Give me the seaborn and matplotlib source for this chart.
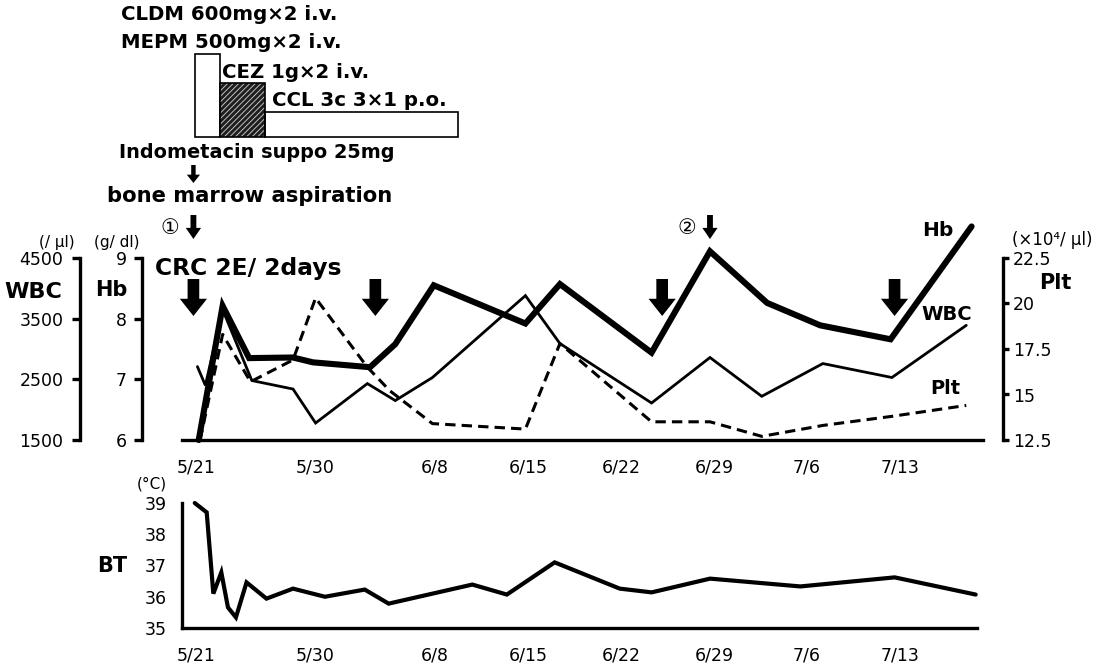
import matplotlib
matplotlib.use("Agg")
import matplotlib.pyplot as plt
import seaborn as sns
from matplotlib.patches import Rectangle

# -------------------------------------------------------
# Data (x = days counted from 5/21)
# -------------------------------------------------------

date_ticks = [0, 9, 18, 25, 32, 39, 46, 53]
date_labels = ["5/21", "5/30", "6/8", "6/15", "6/22", "6/29", "7/6", "7/13"]

hb_days = [0.2, 2.0, 4.0, 7.3, 8.8, 13.1, 15.0, 17.9, 24.8, 27.4, 34.3, 38.7, 43.0, 47.0, 52.3, 58.4]
hb_vals = [6.0, 8.21, 7.35, 7.36, 7.28, 7.2, 7.58, 8.55, 7.92, 8.57, 7.44, 9.11, 8.26, 7.89, 7.66, 9.52]

wbc_days = [0.1, 0.7, 2.0, 4.2, 7.3, 9.0, 12.9, 15.0, 17.8, 24.8, 27.4, 34.3, 38.7, 42.6, 47.2, 52.4, 58.0]
wbc_vals = [2710, 2400, 3650, 2480, 2340, 1780, 2430, 2150, 2530, 3880, 3090, 2110, 2860, 2220, 2760, 2530, 3390]

plt_days = [0.3, 2.0, 4.1, 7.3, 9.0, 12.9, 14.6, 17.8, 24.8, 27.4, 34.3, 38.7, 42.6, 47.2, 52.4, 58.0]
plt_vals = [12.5, 18.3, 15.7, 16.9, 20.3, 16.5, 15.2, 13.4, 13.1, 17.8, 13.5, 13.5, 12.7, 13.3, 13.8, 14.4]

bt_days = [-0.1, 0.8, 1.3, 1.9, 2.4, 3.0, 3.8, 5.3, 7.3, 9.7, 12.7, 14.5,
           20.8, 23.4, 27.0, 31.9, 34.3, 38.7, 45.5, 52.6, 58.7]
bt_vals = [39.0, 38.7, 36.1, 36.78, 35.66, 35.34, 36.46, 35.94, 36.26, 36.0, 36.23, 35.78,
           36.39, 36.07, 37.1, 36.26, 36.14, 36.58, 36.33, 36.62, 36.07]

crc_days = [-0.2, 13.5, 35.1, 52.6]      # CRC 2E / 2days
marrow_days = [-0.2, 38.7]               # bone marrow aspiration 1, 2
marrow_marks = ["\u2460", "\u2461"]

drug_start = [-0.1, 1.8, 5.2]            # CLDM+MEPM, CEZ, CCL
drug_end = [1.8, 5.2, 19.7]

# -------------------------------------------------------
# Figure layout (pixel based, 1113 x 669)
# -------------------------------------------------------

sns.set_style("white")
plt.rcParams["font.family"] = ["DejaVu Sans", "Noto Sans CJK JP"]
plt.rcParams["hatch.linewidth"] = 0.7

W, H = 1113, 669
fig = plt.figure(figsize=(W / 100, H / 100), dpi=100)


def rect(left, top, right, bottom):
    return [left / W, 1 - bottom / H, (right - left) / W, (bottom - top) / H]


def ftext(x, y, s, **kw):
    kw.setdefault("ha", "center")
    kw.setdefault("va", "center")
    fig.text(x / W, 1 - y / H, s, color="k", **kw)


XLIM = (-1.06, 59.26)
SPW = 2.4

ax_hb = fig.add_axes(rect(182, 258, 983, 440))
ax_wbc = ax_hb.twinx()
ax_plt = ax_hb.twinx()
ax_bt = fig.add_axes(rect(182, 503, 977, 628))

# lines
sns.lineplot(x=wbc_days, y=wbc_vals, ax=ax_wbc, color="k", lw=2.0,
             solid_joinstyle="miter")
sns.lineplot(x=plt_days, y=plt_vals, ax=ax_plt, color="k", lw=2.2,
             linestyle=(0, (3.4, 2.0)), clip_on=False)
sns.lineplot(x=hb_days, y=hb_vals, ax=ax_hb, color="k", lw=4.4,
             solid_joinstyle="miter", clip_on=False)
sns.lineplot(x=bt_days, y=bt_vals, ax=ax_bt, color="k", lw=3.0,
             solid_joinstyle="miter", clip_on=False)

ax_hb.set_zorder(ax_plt.get_zorder() + 1)
ax_hb.patch.set_visible(False)

for a in (ax_hb, ax_wbc, ax_plt, ax_bt):
    a.set_xlim(XLIM)
    a.set_xlabel("")
    a.set_ylabel("")
    for s in a.spines.values():
        s.set_visible(False)
        s.set_linewidth(SPW)
        s.set_color("k")
ax_bt.set_xlim(XLIM[0], 58.8)

# Hb axis (left, inner)
ax_hb.set_ylim(6, 9)
ax_hb.set_yticks([6, 7, 8, 9])
ax_hb.spines["left"].set_visible(True)
ax_hb.spines["left"].set_position(("axes", -40 / 801))
ax_hb.spines["bottom"].set_visible(True)
ax_hb.yaxis.tick_left()
ax_hb.tick_params(axis="y", direction="out", length=6, width=SPW, pad=5,
                  labelsize=12.5, colors="k")
ax_hb.set_xticks(date_ticks)
ax_hb.set_xticklabels(date_labels)
ax_hb.tick_params(axis="x", direction="out", length=7, width=SPW, pad=6,
                  labelsize=12.5, colors="k")

# WBC axis (left, outer)
ax_wbc.set_ylim(1500, 4500)
ax_wbc.set_yticks([1500, 2500, 3500, 4500])
ax_wbc.yaxis.tick_left()
ax_wbc.spines["left"].set_visible(True)
ax_wbc.spines["left"].set_position(("axes", -102 / 801))
ax_wbc.tick_params(axis="y", direction="out", length=6, width=SPW, pad=6,
                   labelsize=12.5, colors="k")

# Plt axis (right)
ax_plt.set_ylim(12.5, 22.5)
ax_plt.set_yticks([12.5, 15, 17.5, 20, 22.5])
ax_plt.set_yticklabels(["12.5", "15", "17.5", "20", "22.5"])
ax_plt.spines["right"].set_visible(True)
ax_plt.spines["right"].set_position(("axes", 1 + 20 / 801))
ax_plt.tick_params(axis="y", direction="out", length=4, width=SPW, pad=3,
                   labelsize=12.5, colors="k")

# BT axis
ax_bt.set_ylim(35, 39)
ax_bt.set_yticks([35, 36, 37, 38, 39])
ax_bt.spines["left"].set_visible(True)
ax_bt.spines["bottom"].set_visible(True)
ax_bt.set_xticks(date_ticks)
ax_bt.set_xticklabels(date_labels)
ax_bt.tick_params(axis="y", direction="out", length=6, width=SPW, pad=5,
                  labelsize=12.5, colors="k")
ax_bt.tick_params(axis="x", direction="out", length=8, width=SPW, pad=5,
                  labelsize=12.5, colors="k")

# -------------------------------------------------------
# Annotation layer: x in days, y in pixels from the top
# -------------------------------------------------------

ann = fig.add_axes(rect(182, 0, 983, 669), zorder=10)
ann.set_xlim(XLIM)
ann.set_ylim(H, 0)
ann.axis("off")
ann.patch.set_visible(False)

box_tops = [54, 83, 112]
box_bottom = 137
for i, (s, e) in enumerate(zip(drug_start, drug_end)):
    if i == 1:
        ann.add_patch(Rectangle((s, box_tops[i]), e - s, box_bottom - box_tops[i],
                                fc="#1e1e1e", ec="#c0c0c0", lw=0, hatch="//////"))
    ann.add_patch(Rectangle((s, box_tops[i]), e - s, box_bottom - box_tops[i],
                            fc="none", ec="k", lw=1.2))


def down_arrow(x, y0, y1, scale, hl, hw, tw):
    ann.annotate("", xy=(x, y1), xytext=(x, y0),
                 arrowprops=dict(arrowstyle=f"simple,head_length={hl},head_width={hw},tail_width={tw}",
                                 mutation_scale=scale, fc="k", ec="k", lw=0,
                                 shrinkA=0, shrinkB=0))


for d in crc_days:
    down_arrow(d, 279, 316, 20, 0.62, 0.98, 0.42)

down_arrow(marrow_days[0], 165, 183, 10, 0.6, 0.95, 0.32)
for d in marrow_days:
    down_arrow(d, 215, 239, 10, 0.8, 1.1, 0.42)

# -------------------------------------------------------
# Texts
# -------------------------------------------------------

ftext(121, 15, "CLDM 600mg\u00d72 i.v.", ha="left", fontsize=14.2, fontweight="bold")
ftext(121, 42, "MEPM 500mg\u00d72 i.v.", ha="left", fontsize=14.2, fontweight="bold")
ftext(222, 72, "CEZ 1g\u00d72 i.v.", ha="left", fontsize=14.2, fontweight="bold")
ftext(272, 100, "CCL 3c 3\u00d71 p.o.", ha="left", fontsize=14.2, fontweight="bold")
ftext(119, 152, "Indometacin suppo 25mg", ha="left", fontsize=13.9, fontweight="bold")
ftext(107, 196, "bone marrow aspiration", ha="left", fontsize=15.2, fontweight="bold")
ftext(170, 228, marrow_marks[0], fontsize=15)
ftext(687, 228, marrow_marks[1], fontsize=15)
ftext(155, 268, "CRC 2E/ 2days", ha="left", fontsize=16.8, fontweight="bold")

ftext(57, 242, "(/ \u03bcl)", fontsize=11)
ftext(117, 242, "(g/ dl)", fontsize=11)
ftext(33, 292, "WBC", fontsize=16, fontweight="bold")
ftext(111, 290, "Hb", fontsize=15, fontweight="bold")
ftext(1052, 240, "(\u00d710\u2074/ \u03bcl)", fontsize=12)
ftext(1055, 283, "Plt", fontsize=15, fontweight="bold")

ftext(938, 230, "Hb", fontsize=14.5, fontweight="bold")
ftext(947, 315, "WBC", fontsize=14, fontweight="bold")
ftext(945, 388, "Plt", fontsize=14, fontweight="bold")

ftext(152, 484, "(\u00b0C)", fontsize=11)
ftext(112, 566, "BT", fontsize=15, fontweight="bold")

fig.savefig("out.png", dpi=100)
